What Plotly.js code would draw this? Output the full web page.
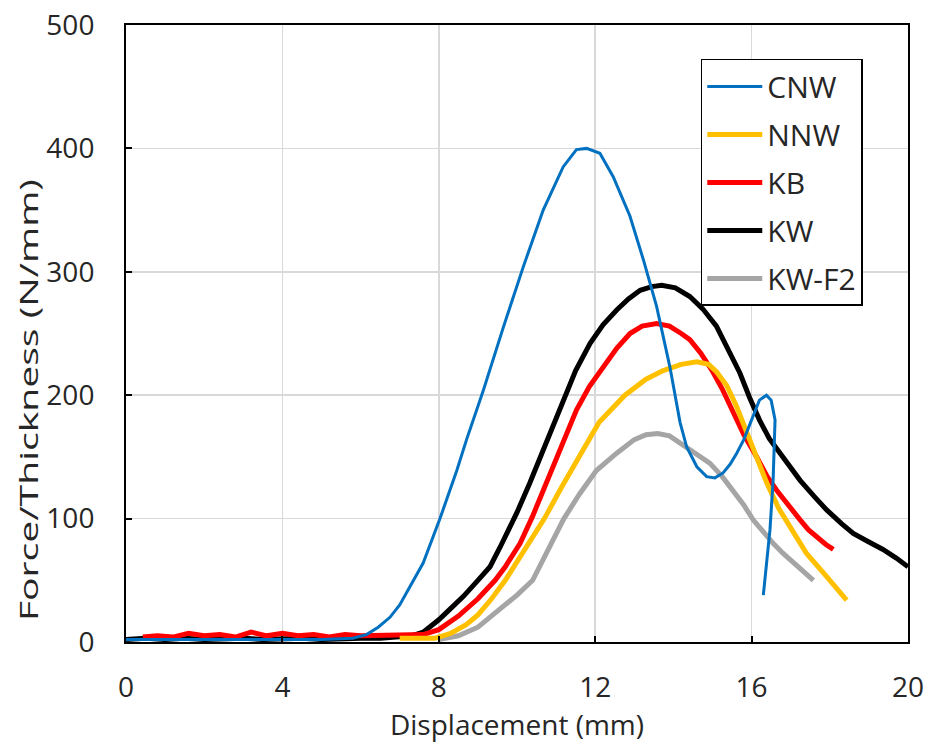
<!DOCTYPE html>
<html>
<head>
<meta charset="utf-8">
<script src="https://cdn.plot.ly/plotly-3.0.1.min.js"></script>
<style>
  html, body { margin: 0; padding: 0; background: #ffffff; }
  #chart { width: 927px; height: 746px; }
</style>
</head>
<body>
<div id="chart"></div>
<script>
// ---- data ----
const seriesNames = ["CNW", "NNW", "KB", "KW", "KW-F2"];

const cnwX = [0, 1, 2, 3, 4, 5, 5.8, 6.15, 6.45, 6.75, 7.0, 7.26, 7.6, 8.03, 8.46, 8.71, 9.14, 9.65, 10.16, 10.67, 11.18, 11.52, 11.78, 12.12, 12.46, 12.89, 13.23, 13.57, 13.91, 14.17, 14.34, 14.6, 14.85, 15.06, 15.27, 15.45, 15.62, 15.8, 15.96, 16.2, 16.38, 16.5, 16.6, 16.55, 16.47, 16.4, 16.34, 16.3];
const cnwY = [2, 2, 2, 2, 2, 2, 3, 6, 12, 20, 30, 45, 64, 100, 139, 164, 204, 255, 304, 350, 385, 399, 400, 396, 377, 345, 310, 272, 223, 178, 158, 142, 134, 133, 137, 144, 153, 164, 177, 196, 200, 196, 180, 131, 91, 70, 50, 38];

const nnwX = [7.0, 7.9, 8.3, 8.7, 9.0, 9.35, 9.7, 10.2, 10.7, 11.15, 11.6, 12.1, 12.76, 13.3, 13.74, 14.2, 14.6, 14.9, 15.1, 15.36, 15.6, 15.85, 16.1, 16.4, 16.7, 17.0, 17.4, 17.92, 18.2, 18.43];
const nnwY = [3, 3, 7, 14, 22, 35, 50, 75, 100, 126, 150, 178, 200, 213, 220, 225, 227, 225, 219, 208, 192, 172, 152, 128, 108, 92, 72, 53, 43, 34];

const kbX = [0.43, 0.8, 1.2, 1.6, 2.0, 2.4, 2.8, 3.2, 3.6, 4.0, 4.4, 4.8, 5.2, 5.6, 6.0, 6.4, 6.8, 7.2, 7.6, 8.0, 8.5, 9.0, 9.44, 9.7, 10.08, 10.4, 10.76, 11.15, 11.52, 11.85, 12.2, 12.55, 12.89, 13.2, 13.57, 13.9, 14.2, 14.42, 14.7, 14.99, 15.25, 15.5, 15.8, 16.13, 16.4, 16.64, 16.95, 17.24, 17.45, 17.66, 17.9, 18.09];
const kbY = [4, 5, 4, 7, 5, 6, 4, 8, 5, 7, 5, 6, 4, 6, 5, 5, 6, 5, 6, 10, 21, 35, 50, 61, 80, 102, 129, 160, 188, 207, 223, 238, 250, 256, 258, 256, 250, 245, 234, 220, 205, 189, 168, 150, 134, 123, 110, 99, 91, 85, 79, 75];

const kwX = [0, 0.5, 1, 1.5, 2, 2.5, 3, 3.5, 4, 4.5, 5, 5.5, 6, 6.5, 7.0, 7.3, 7.6, 8.0, 8.3, 8.63, 9.0, 9.31, 9.57, 10.0, 10.33, 10.75, 11.18, 11.5, 11.87, 12.2, 12.55, 12.85, 13.15, 13.45, 13.7, 14.05, 14.42, 14.75, 15.1, 15.4, 15.7, 15.95, 16.2, 16.45, 16.73, 17.0, 17.24, 17.6, 17.92, 18.3, 18.6, 19.0, 19.36, 19.7, 20.0];
const kwY = [2, 3, 2, 3, 2, 3, 3, 2, 3, 3, 2, 3, 3, 3, 4, 5, 8, 18, 27, 37, 50, 61, 77, 105, 129, 162, 196, 220, 242, 257, 269, 278, 285, 288, 289, 287, 280, 270, 256, 238, 218, 198, 180, 165, 153, 141, 131, 118, 107, 96, 88, 81, 75, 68, 61];

const kwf2X = [8.0, 8.5, 9.0, 9.5, 10.0, 10.4, 10.8, 11.2, 11.6, 12.03, 12.55, 13.0, 13.3, 13.6, 13.9, 14.34, 14.6, 14.93, 15.25, 15.53, 15.8, 16.04, 16.3, 16.55, 16.8, 17.07, 17.3, 17.58];
const kwf2Y = [2, 5, 12, 25, 38, 50, 74, 100, 120, 139, 153, 164, 168, 169, 167, 158, 152, 145, 134, 123, 111, 99, 89, 80, 72, 64, 57, 50];

const xTicks = [0, 4, 8, 12, 16, 20];
const yTicks = [0, 100, 200, 300, 400, 500];

const xTitle = "Displacement (mm)";
const yTitle = "Force/Thickness (N/mm)";

// ---- styling ----
const colors = { "CNW": "#0070C0", "NNW": "#FFC000", "KB": "#FF0000", "KW": "#000000", "KW-F2": "#A5A5A5" };
const widths = { "CNW": 3, "NNW": 5, "KB": 5, "KW": 5, "KW-F2": 5 };
const xs = { "CNW": cnwX, "NNW": nnwX, "KB": kbX, "KW": kwX, "KW-F2": kwf2X };
const ys = { "CNW": cnwY, "NNW": nnwY, "KB": kbY, "KW": kwY, "KW-F2": kwf2Y };

const drawOrder = ["KW-F2", "KW", "KB", "NNW", "CNW"];
const traces = drawOrder.map(name => ({
  type: "scatter",
  mode: "lines",
  name: name,
  legendgroup: name,
  legendrank: seriesNames.indexOf(name) + 1,
  x: xs[name],
  y: ys[name],
  line: { color: colors[name], width: widths[name] },
  hoverinfo: "skip"
}));

const fontFamily = "'Open Sans', 'Noto Sans', sans-serif";
const tickColor = "#262626";

const layout = {
  width: 927,
  height: 746,
  margin: { l: 126, r: 19, t: 25, b: 104 },
  paper_bgcolor: "#ffffff",
  plot_bgcolor: "#ffffff",
  showlegend: true,
  font: { family: fontFamily, color: tickColor },
  xaxis: {
    range: [0, 20],
    tickvals: xTicks,
    ticktext: xTicks.map(String),
    showgrid: true,
    gridcolor: "#d9d9d9",
    gridwidth: 1.5,
    zeroline: false,
    showline: true,
    linecolor: "#000000",
    linewidth: 2,
    mirror: true,
    ticks: "inside",
    ticklen: 6,
    tickwidth: 2,
    tickcolor: "#000000",
    ticklabelstandoff: 19,
    tickfont: { family: fontFamily, size: 28, color: tickColor },
    automargin: false,
    title: { text: xTitle, font: { family: fontFamily, size: 28, color: tickColor }, standoff: 1 }
  },
  yaxis: {
    range: [0, 500],
    tickvals: yTicks,
    ticktext: yTicks.map(String),
    showgrid: true,
    gridcolor: "#d9d9d9",
    gridwidth: 1.5,
    zeroline: false,
    showline: true,
    linecolor: "#000000",
    linewidth: 2,
    mirror: true,
    ticks: "inside",
    ticklen: 6,
    tickwidth: 2,
    tickcolor: "#000000",
    ticklabelstandoff: 24,
    tickfont: { family: fontFamily, size: 28, color: tickColor },
    automargin: false
  },
  annotations: [{
    text: yTitle,
    xref: "paper", yref: "paper",
    x: -0.125, y: 0.392,
    xanchor: "center", yanchor: "middle",
    textangle: -90,
    showarrow: false,
    font: { family: fontFamily, size: 25, color: tickColor }
  }],
  legend: {
    x: 0.735,
    y: 0.945,
    xanchor: "left",
    yanchor: "top",
    bgcolor: "#ffffff",
    bordercolor: "#000000",
    borderwidth: 1.5,
    traceorder: "grouped",
    tracegroupgap: 6,
    itemwidth: 55,
    font: { family: fontFamily, size: 30, color: tickColor }
  }
};

Plotly.newPlot("chart", traces, layout, { staticPlot: true, displayModeBar: false }).then(gd => {
  // the reference's vertical title is drawn stretched along its length
  const t = gd.querySelector(".annotation-text");
  if (t) {
    t.setAttribute("textLength", "442");
    t.setAttribute("lengthAdjust", "spacingAndGlyphs");
  }
});
</script>
</body>
</html>
